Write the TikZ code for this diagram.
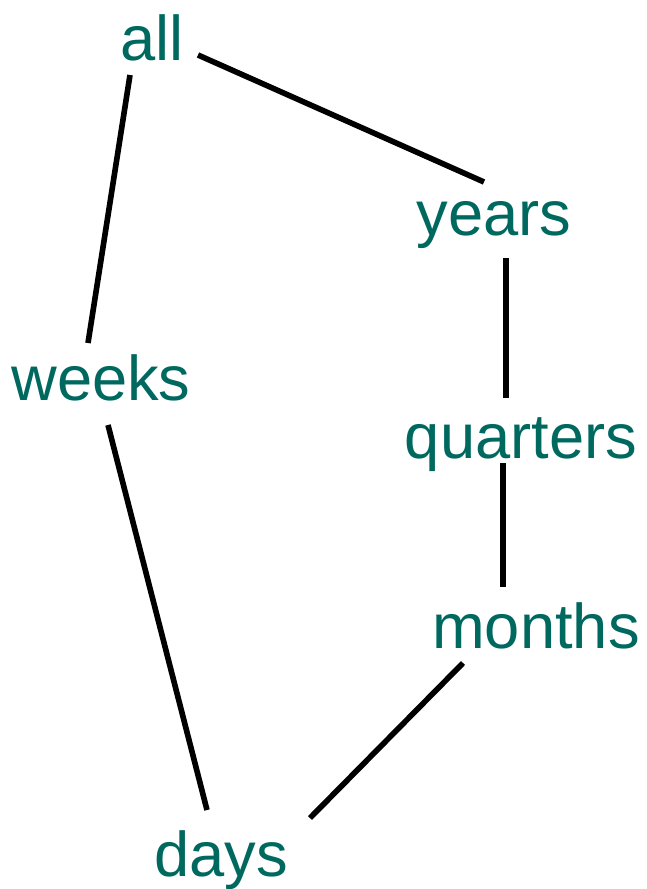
\documentclass[tikz,border=0pt]{standalone}
\usepackage{fontspec}
\setmainfont{Liberation Sans}
\definecolor{levelgreen}{RGB}{0,105,95}
\begin{document}
\begin{tikzpicture}[x=0.02cm,y=-0.02cm,
    level/.style={text=levelgreen, anchor=base, inner sep=0pt, font=\fontsize{36}{40}\selectfont},
    link/.style={line width=3.2pt}]
        \useasboundingbox (0,0) rectangle (646,889);
        \node[level] at (152,60) (all) {all};
        \node[level] at (494,235) (years) {years};
        \node[level] at (101,400) (weeks) {weeks};
        \node[level] at (521,458) (quarters) {quarters};
        \node[level] at (536,648) (months) {months};
        \node[level] at (221,876) (days) {days};

        \draw[link] ([shift={(46,-5)}]all.base)--([shift={(-10,-53)}]years.base);
        \draw[link] ([shift={(-22,15)}]all.base)--([shift={(-13,-57)}]weeks.base);
        \draw[link] ([shift={(12,23)}]years.base)--([shift={(-15,-60)}]quarters.base);
        \draw[link] ([shift={(-18,5)}]quarters.base)--([shift={(-33,-61)}]months.base);
        \draw[link] ([shift={(7,25)}]weeks.base)--([shift={(-14,-66)}]days.base);
        \draw[link] ([shift={(-73,15)}]months.base)--([shift={(89,-58)}]days.base);
      \end{tikzpicture}
\end{document}
